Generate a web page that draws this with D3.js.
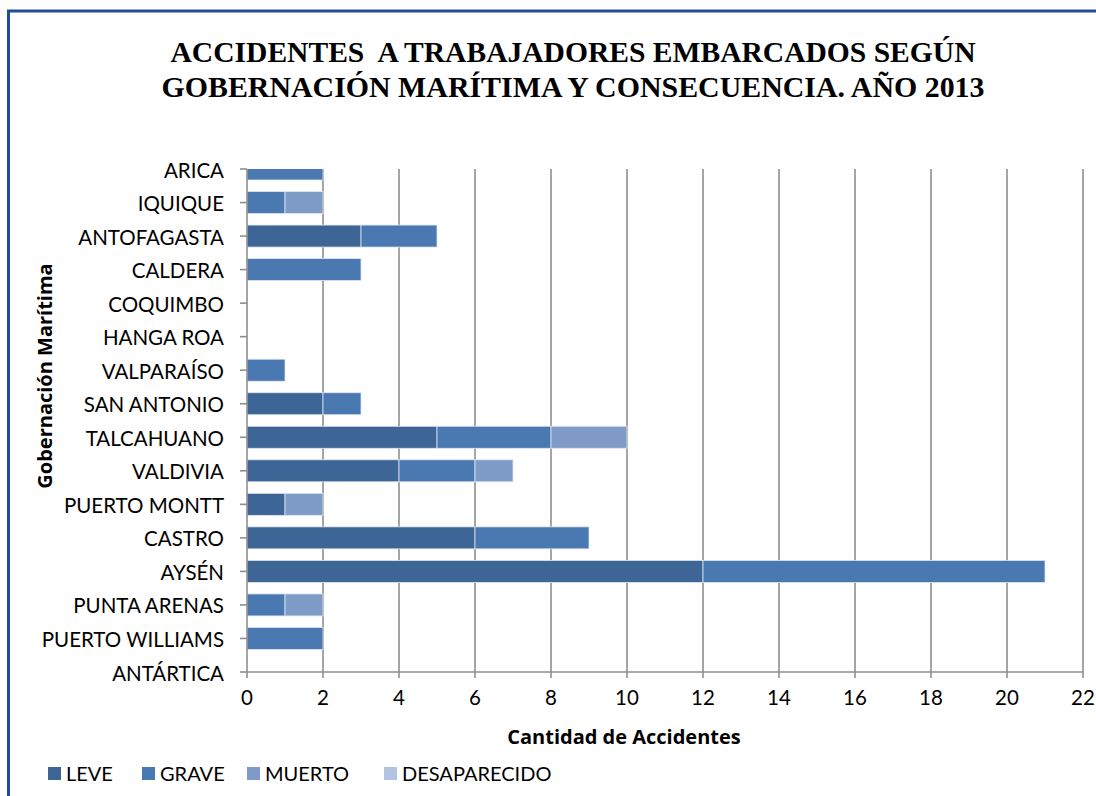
<!DOCTYPE html>
<html><head>
<meta charset="utf-8">
<title>Accidentes a trabajadores embarcados 2013</title>
<script src="https://d3js.org/d3.v7.min.js"></script>
<style>
  body { margin: 0; background: #fff; }
  .gridlines line { stroke: #8f8f8f; stroke-width: 1.6; }
  .axisline { stroke: #8f8f8f; stroke-width: 1.6; }
  .catlabel, .ticklabel, .legend text { font-family: Lato, "Open Sans", sans-serif; fill: #000; }
  .axistitle { font-family: "Open Sans", sans-serif; font-weight: bold; fill: #000; }
  .title { font-family: "Liberation Serif", serif; font-weight: bold; fill: #000; white-space: pre; }
</style>
</head>
<body>
<svg id="chart" width="1096" height="796"></svg>
<script>
// data
let regions = ["ARICA", "IQUIQUE", "ANTOFAGASTA", "CALDERA", "COQUIMBO", "HANGA ROA",
  "VALPARAÍSO", "SAN ANTONIO", "TALCAHUANO", "VALDIVIA", "PUERTO MONTT", "CASTRO",
  "AYSÉN", "PUNTA ARENAS", "PUERTO WILLIAMS", "ANTÁRTICA"];
let leve         = [0, 0, 3, 0, 0, 0, 0, 2, 5, 4, 1, 6, 12, 0, 0, 0];
let grave        = [2, 1, 2, 3, 0, 0, 1, 1, 3, 2, 0, 3, 9, 1, 2, 0];
let muerto       = [0, 1, 0, 0, 0, 0, 0, 0, 2, 1, 1, 0, 0, 1, 0, 0];
let desaparecido = [0, 0, 0, 0, 0, 0, 0, 0, 0, 0, 0, 0, 0, 0, 0, 0];
let seriesNames = ["LEVE", "GRAVE", "MUERTO", "DESAPARECIDO"];
let xTicks = [0, 2, 4, 6, 8, 10, 12, 14, 16, 18, 20, 22];

let colors = ["#3d6595", "#4a78b0", "#7f9bc8", "#b3c4e0"];

let rows = regions.map((r, i) => ({
  region: r, LEVE: leve[i], GRAVE: grave[i], MUERTO: muerto[i], DESAPARECIDO: desaparecido[i]
}));

let svg = d3.select("svg#chart");

// frame (top and left edge in dark blue)
svg.append("line").attr("x1", 7).attr("x2", 1096).attr("y1", 11).attr("y2", 11)
  .attr("stroke", "#1f4e96").attr("stroke-width", 3);
svg.append("line").attr("x1", 8.5).attr("x2", 8.5).attr("y1", 10).attr("y2", 796)
  .attr("stroke", "#1f4e96").attr("stroke-width", 3);

// title
svg.append("text").attr("class", "title").attr("x", 573).attr("y", 62)
  .attr("text-anchor", "middle").style("font-size", "30px")
  .attr("textLength", 805).attr("lengthAdjust", "spacingAndGlyphs")
  .text("ACCIDENTES  A TRABAJADORES EMBARCADOS SEGÚN");
svg.append("text").attr("class", "title").attr("x", 573).attr("y", 97)
  .attr("text-anchor", "middle").style("font-size", "30px")
  .attr("textLength", 823).attr("lengthAdjust", "spacingAndGlyphs")
  .text("GOBERNACIÓN MARÍTIMA Y CONSECUENCIA. AÑO 2013");

// scales
let plotTop = 169, plotBottom = 672;
let x = d3.scaleLinear().domain([0, 22]).range([247, 1083]);
let y = d3.scalePoint().domain(regions).range([plotTop, plotBottom]).padding(0);
let barH = 22;

// gridlines
svg.append("g").attr("class", "gridlines")
  .selectAll("line").data(xTicks.slice(1)).join("line")
  .attr("x1", d => x(d)).attr("x2", d => x(d))
  .attr("y1", plotTop).attr("y2", plotBottom);

// bars, clipped to the plot area
svg.append("clipPath").attr("id", "plotclip").append("rect")
  .attr("x", x(0)).attr("y", plotTop).attr("width", x(22) - x(0)).attr("height", plotBottom - plotTop);

let stacked = d3.stack().keys(seriesNames)(rows);
let barLayer = svg.append("g").attr("clip-path", "url(#plotclip)");
barLayer.selectAll("g").data(stacked).join("g")
  .attr("fill", (d, i) => colors[i])
  .selectAll("rect").data(d => d.filter(s => s[1] > s[0])).join("rect")
  .attr("x", d => x(d[0]))
  .attr("y", d => y(d.data.region) - barH / 2)
  .attr("width", d => x(d[1]) - x(d[0]))
  .attr("height", barH)
  .attr("stroke", "#dfe6f1").attr("stroke-width", 0.8);

// y axis line + ticks
svg.append("line").attr("class", "axisline")
  .attr("x1", x(0)).attr("x2", x(0)).attr("y1", plotTop).attr("y2", plotBottom);
svg.append("g").selectAll("line").data(regions).join("line").attr("class", "axisline")
  .attr("x1", x(0) - 7).attr("x2", x(0)).attr("y1", d => y(d)).attr("y2", d => y(d));
svg.append("g").selectAll("text").data(regions).join("text").attr("class", "catlabel")
  .attr("text-anchor", "end").attr("dominant-baseline", "central")
  .attr("transform", d => "translate(224," + (y(d) + 0.5) + ")")
  .style("font-size", "20.5px")
  .text(d => d);

// x axis line + ticks
svg.append("line").attr("class", "axisline")
  .attr("x1", x(0)).attr("x2", x(22)).attr("y1", plotBottom).attr("y2", plotBottom);
svg.append("g").selectAll("line").data(xTicks).join("line").attr("class", "axisline")
  .attr("x1", d => x(d)).attr("x2", d => x(d)).attr("y1", plotBottom).attr("y2", plotBottom + 6);
svg.append("g").selectAll("text").data(xTicks).join("text").attr("class", "ticklabel")
  .attr("text-anchor", "middle")
  .attr("transform", d => "translate(" + x(d) + ",705)")
  .style("font-size", "20.5px")
  .text(d => d);

// axis titles
svg.append("text").attr("class", "axistitle")
  .attr("transform", "translate(624,744)")
  .attr("text-anchor", "middle").style("font-size", "20px")
  .text("Cantidad de Accidentes");
svg.append("text").attr("class", "axistitle")
  .attr("transform", "translate(52,376) rotate(-90)")
  .attr("text-anchor", "middle").style("font-size", "20px")
  .text("Gobernación Marítima");

// legend
let legendX = [48, 142, 247, 384];
let legend = svg.append("g").attr("class", "legend");
let items = legend.selectAll("g").data(seriesNames).join("g")
  .attr("transform", (d, i) => "translate(" + legendX[i] + ",767)");
items.append("rect").attr("width", 13).attr("height", 13).attr("fill", (d, i) => colors[i]);
items.append("text").attr("x", 18).attr("y", 14)
  .style("font-size", "20px").text(d => d);
</script>
</body>
</html>
